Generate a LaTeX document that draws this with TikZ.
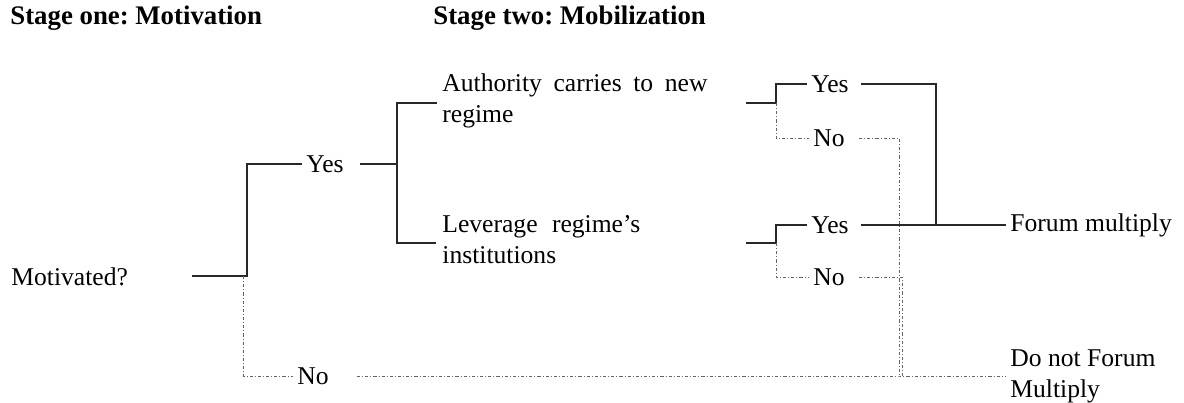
\documentclass[tikz,border=0pt]{standalone}
\usepackage{fontspec}
\setmainfont{Liberation Serif}
\usetikzlibrary{positioning,calc}
\frenchspacing
\definecolor{inkgray}{RGB}{40,40,40}
\definecolor{dimmed}{RGB}{100,100,100}
\tikzset{
  % ---- texts ------------------------------------------------------------
  lbl/.style={font=\fontsize{12.8}{15.5}\selectfont, text=black, inner xsep=2pt,
              inner ysep=1pt},
  blk/.style={lbl, align=left, anchor=west, inner xsep=0pt},
  banner/.style={font=\bfseries\fontsize{13.4}{15}\selectfont, anchor=west, inner sep=0pt},
  % ---- branches ---------------------------------------------------------
  yesline/.style={draw=inkgray, line width=0.55pt},
  noline/.style={draw=dimmed, line width=0.5pt,
                 dash pattern=on 1.6pt off 1pt on 0.5pt off 1pt},
}

\begin{document}
\begin{tikzpicture}[x=0.5pt,y=-0.5pt]
\useasboundingbox (0,0) rectangle (1184,402);

% ============================ headings ====================================
\node[banner] (hone) at (10,18)  {Stage one: Motivation};
\node[banner] (htwo) at (433,18) {Stage two: Mobilization};

% ============================ stage one ===================================
\node[blk] (motiv) at (11,277) {Motivated?};
\node[lbl] (yes1) at (325,164) {Yes};
\node[lbl] (no1)  at (313,376) {No};

\coordinate (m0) at (192,276);
\coordinate (m1) at (247,276);
\coordinate (m2) at (243,276);
\draw[yesline] (m0) -- (m1) |- (yes1.west);
\draw[noline] (m2) |- (no1.west);

% ============================ stage two ===================================
\node[blk] (auth) at (442,101)
  {Authority\hspace{2.6pt} carries\hspace{2.6pt} to\hspace{2.6pt} new\\regime};
\node[blk] (lev)  at (442,240) {Leverage\hspace{4pt} regime's\\institutions};

\coordinate (a0) at (397,164);
\coordinate (a1) at (397,103);
\coordinate (a2) at (397,243);
\draw[yesline] (yes1.east) ++(12,0) -- (a0);
\draw[yesline] (auth.west|-a1) ++(-5,0) -- (a1) -- (a2) -- ++(39,0);

\node[lbl] (yes2) at (830,84)  {Yes};
\node[lbl] (no2)  at (829,138) {No};
\node[lbl] (yes3) at (830,225) {Yes};
\node[lbl] (no3)  at (829,277) {No};

\coordinate (b0) at (746,103);
\coordinate (b1) at (776,103);
\coordinate (c0) at (746,243);
\coordinate (c1) at (776,243);
\draw[yesline] (b0) -- (b1) |- (yes2.west);
\draw[noline] (b1) |- (no2.west);
\draw[yesline] (c0) -- (c1) |- (yes3.west);
\draw[noline] (c1) |- (no3.west);

% ============================ outcomes ====================================
\node[blk] (forum) at (1010,225) {Forum multiply};
\node[blk] (donot) at (1010,376) {Do not Forum\\Multiply};

\coordinate (j) at (936,225);
\coordinate (k1) at (899,376);
\coordinate (k2) at (902,376);
\draw[yesline] (yes2.east) ++(8,0) -| (j) -- ($(forum.west)+(-4,0)$);
\draw[yesline] (yes3.east) ++(8,0) -- (j);
\draw[noline] (no2.east) ++(10,0) -| (k1);
\draw[noline] (no3.east) ++(10,0) -| (k2);
\draw[noline] (no1.east) ++(24,0) -- (k1) -- ($(donot.west)+(-4,0)$);

\end{tikzpicture}
\end{document}
